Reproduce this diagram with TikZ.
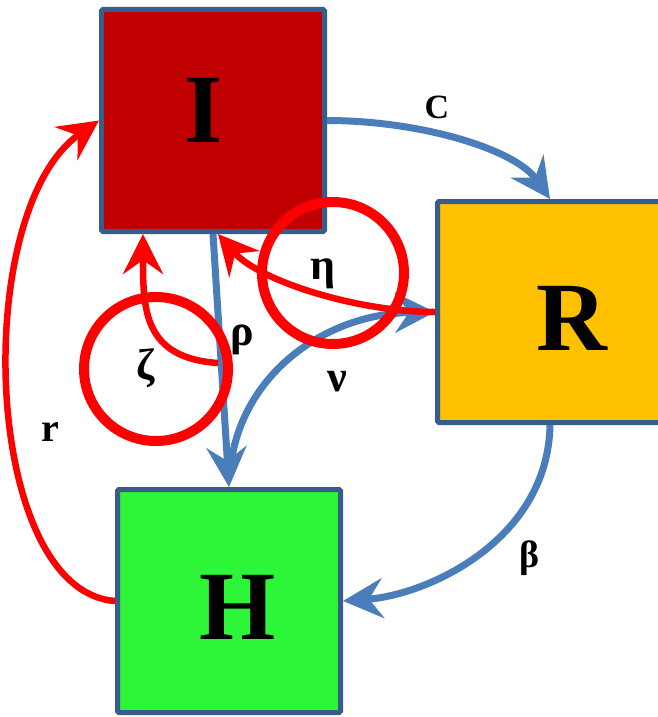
\documentclass[tikz,border=0pt]{standalone}
\usepackage{fontspec}
\setmainfont{Liberation Serif}
\usetikzlibrary{arrows.meta,calc}
\definecolor{boxedge}{RGB}{56,93,138}
\definecolor{infred}{RGB}{192,0,0}
\definecolor{recamber}{RGB}{255,192,0}
\definecolor{hgreen}{RGB}{45,245,55}
\definecolor{flowblue}{RGB}{74,126,187}
\definecolor{loopred}{RGB}{255,0,0}
\begin{document}
\begin{tikzpicture}[x=1pt,y=-1pt,
  compart/.style={draw=boxedge, line width=5pt, rounded corners=1.5pt,
    minimum width=223pt, minimum height=222pt, inner sep=0pt},
  biglab/.style={font=\fontsize{98}{98}\selectfont\bfseries, inner sep=0pt},
  ratelab/.style={font=\fontsize{34}{34}\selectfont\bfseries, inner sep=0pt},
  greeklab/.style={font=\fontsize{44}{44}\selectfont\bfseries, inner sep=0pt},
  flowtip/.tip={Stealth[length=40pt,width=40pt,inset=14pt]},
  blueflow/.style={draw=flowblue, line width=7pt, -flowtip},
  redflow/.style={draw=loopred, line width=6.5pt, -flowtip},
  ring/.style={draw=loopred, line width=10pt}]
\useasboundingbox (0,0) rectangle (658,717);

% compartments
\node[compart, fill=infred] (I) at (213,120.5) {};
\node[compart, fill=recamber, minimum width=225pt, minimum height=221pt] (R) at (550,312) {};
\node[compart, fill=hgreen, minimum height=223pt] (H) at (229,601) {};

% blue transitions
\draw[blueflow] (I.east) .. controls +(93,0) and +(-35,-50) .. (R.north);
\draw[blueflow] (R.south) .. controls +(-2,115) and +(85,-6) .. (H.east);
\draw[blueflow] (I.south) -- (H.north);
\draw[blueflow, shorten <=14pt] (H.north) .. controls +(8,-107) and +(-115,2) .. (R.west);

% red transitions
\coordinate (zs) at ($(I.south)!0.51!(H.north)+(-3,0)$);
\draw[redflow] (R.west) .. controls +(-75,0) and +(42,48) .. ([xshift=5pt]I.south);
\draw[redflow] (zs) .. controls +(-75,-5) and +(0,75) .. ([xshift=-70pt]I.south);
\draw[redflow] (H.west) .. controls +(-133,-10) and +(-129,90) .. (I.west);

% highlight rings
\draw[ring] (333,273) circle[radius=71pt];
\draw[ring] (156,369) circle[radius=72pt];

% labels
\node[biglab] (Ilab) at (203.5,110.5) {I};
\node[biglab] (Rlab) at (571.5,318.5) {R};
\node[biglab] (Hlab) at (237.5,607) {H};
\node[ratelab] (clab) at (437,107) {C};
\node[ratelab, font=\fontsize{38}{38}\selectfont\bfseries] (betalab) at (530,558) {β};
\node[ratelab, font=\fontsize{40}{40}\selectfont\bfseries] (rlab) at (50,432) {r};
\node[greeklab] (rholab) at (242,340) {ρ};
\node[greeklab] (nulab) at (337,382) {ν};
\node[greeklab] (etalab) at (323,274) {η};
\node[greeklab] (zetalab) at (146,368) {ζ};
\end{tikzpicture}
\end{document}
